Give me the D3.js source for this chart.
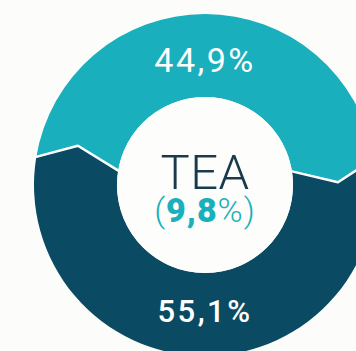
<!DOCTYPE html>
<html>
<head>
<meta charset="utf-8">
<script src="https://cdn.jsdelivr.net/npm/d3@7"></script>
<style>
  html, body { margin: 0; padding: 0; background: #fcfcfa; overflow: hidden; }
  svg { display: block; }
  text { font-family: Roboto, "Noto Sans", sans-serif; }
</style>
</head>
<body>
<svg id="chart" width="356" height="351"></svg>
<script>
// Share of the two segments (percent), top segment first
const segmentNames = ["upper", "lower"];
const shares = [44.9, 55.1];
const shareLabels = ["44,9%", "55,1%"];
const segmentColors = ["#19afbc", "#0a4a62"];

// Centre caption
const centerTitle = "TEA";
const centerShare = "9,8";

const width = 356, height = 351;
const cx = 205, cy = 185;
const outerR = 171, innerR = 88;
const midR = 133;                       // radius of the bend in each divider
const bend = 8 * Math.PI / 180;         // clockwise offset of the bend

const svg = d3.select("#chart");
const g = svg.append("g").attr("transform", `translate(${cx},${cy})`);

// Centre the first segment on 12 o'clock
const a0 = 2 * Math.PI * shares[0] / d3.sum(shares);
const pie = d3.pie().sort(null)
  .startAngle(-a0 / 2)
  .endAngle(2 * Math.PI - a0 / 2);
const arcs = pie(shares);

const pt = (r, a) => [r * Math.sin(a), -r * Math.cos(a)];

// Segment outline: outer arc, bent divider, inner arc, bent divider
function segmentPath(d) {
  const p = d3.path();
  const s = d.startAngle, e = d.endAngle;
  p.moveTo(...pt(outerR, s));
  p.arc(0, 0, outerR, s - Math.PI / 2, e - Math.PI / 2, false);
  p.lineTo(...pt(midR, e + bend));
  p.lineTo(...pt(innerR, e));
  p.arc(0, 0, innerR, e - Math.PI / 2, s - Math.PI / 2, true);
  p.lineTo(...pt(midR, s + bend));
  p.closePath();
  return p.toString();
}

g.selectAll("path.segment")
  .data(arcs)
  .join("path")
  .attr("class", "segment")
  .attr("d", segmentPath)
  .attr("fill", (d, i) => segmentColors[i]);

// White dividers between segments
g.selectAll("path.divider")
  .data(arcs)
  .join("path")
  .attr("class", "divider")
  .attr("d", d => d3.line()([
    pt(outerR + 2, d.startAngle),
    pt(midR, d.startAngle + bend),
    pt(innerR - 1, d.startAngle)
  ]))
  .attr("fill", "none")
  .attr("stroke", "#ffffff")
  .attr("stroke-width", 2.5)
  .attr("stroke-linejoin", "round");

// Inner hole
g.append("circle").attr("r", innerR).attr("fill", "#fdfdfb");

// Segment value labels
const labelY = [-113, 137];
const labelSize = [34, 31];
const labelWeight = [400, 500];
g.selectAll("text.share")
  .data(shareLabels)
  .join("text")
  .attr("class", "share")
  .attr("x", 0)
  .attr("y", (d, i) => labelY[i])
  .attr("text-anchor", "middle")
  .attr("fill", "#ffffff")
  .attr("font-size", (d, i) => labelSize[i])
  .attr("font-weight", (d, i) => labelWeight[i])
  .attr("letter-spacing", 2.5)
  .text(d => d);

// Centre caption
g.append("text")
  .attr("x", 0).attr("y", 4)
  .attr("text-anchor", "middle")
  .attr("fill", "#173b4a")
  .attr("font-size", 49)
  .attr("font-weight", 300)
  .attr("letter-spacing", 0.5)
  .text(centerTitle);

const sub = g.append("text")
  .attr("x", 0).attr("y", 37)
  .attr("text-anchor", "middle")
  .attr("fill", "#1aafbc")
  .attr("font-size", 34)
  .attr("letter-spacing", 1);
sub.append("tspan").attr("font-weight", 300).text("(");
sub.append("tspan").attr("font-weight", 900).text(centerShare);
sub.append("tspan").attr("font-weight", 300).text("%)");
</script>
</body>
</html>
